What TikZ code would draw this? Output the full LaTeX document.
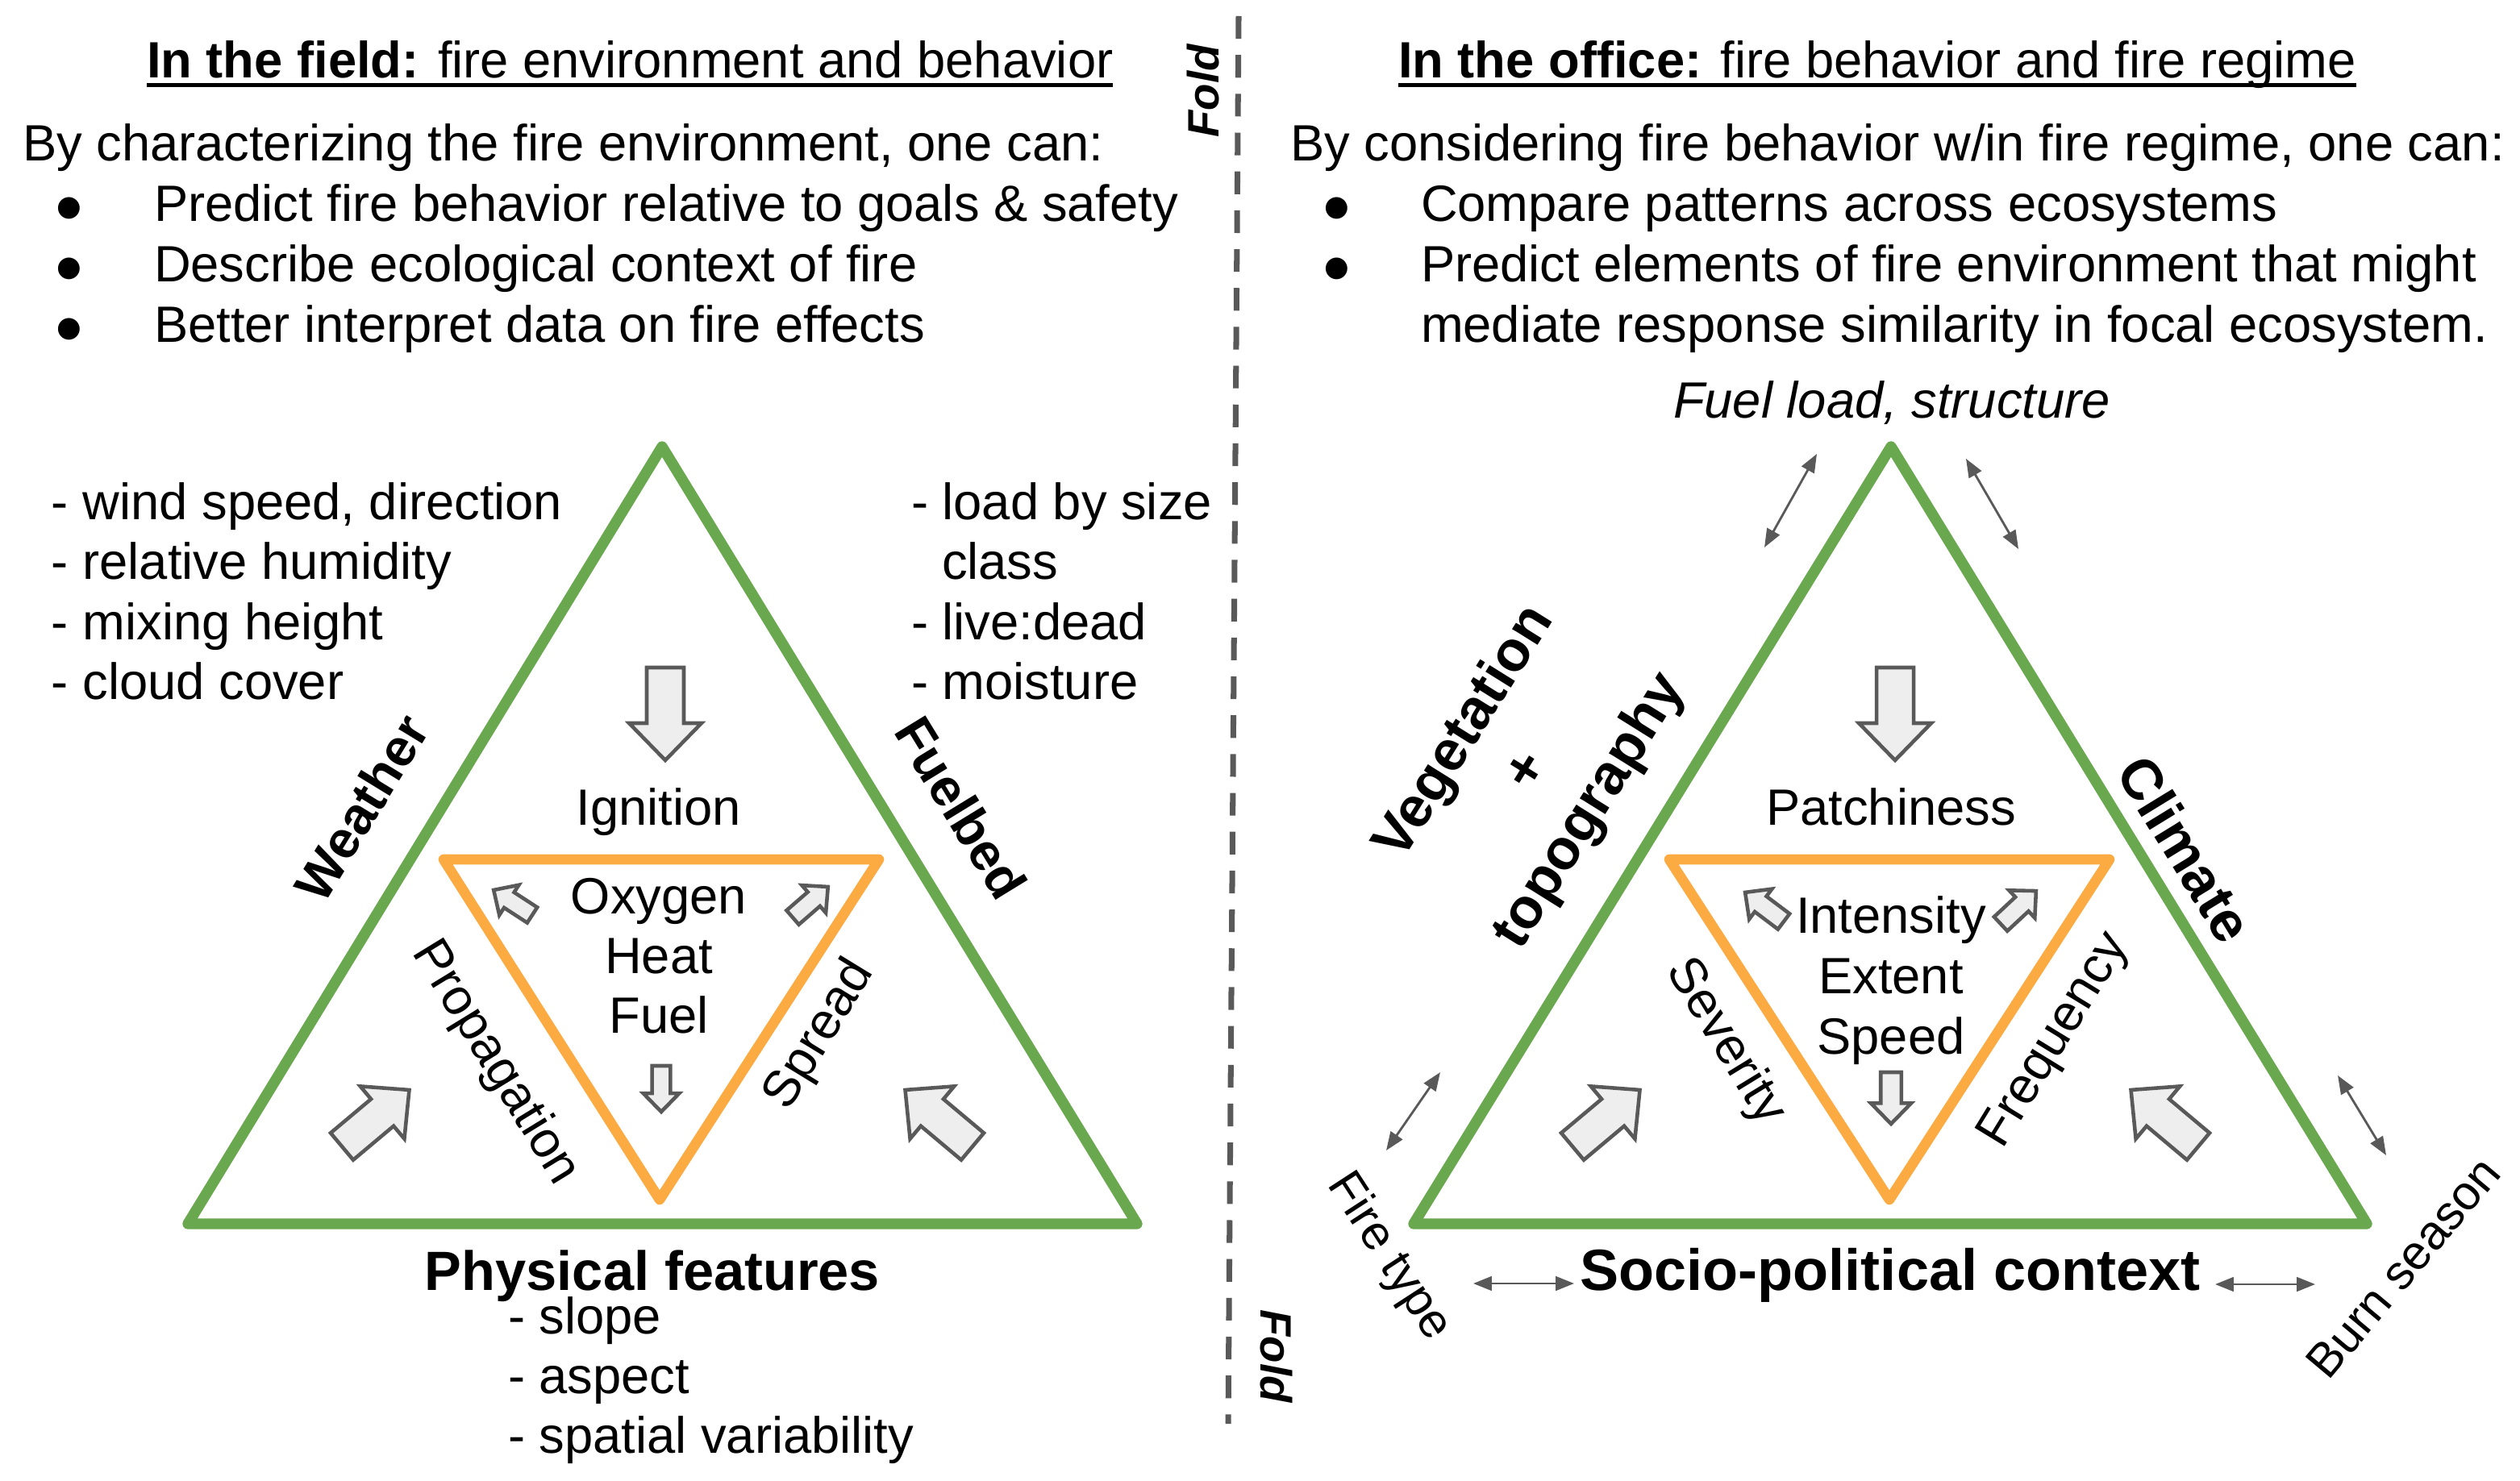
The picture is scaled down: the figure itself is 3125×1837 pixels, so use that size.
\documentclass[tikz,border=0pt]{standalone}
\usepackage{fontspec}
\setmainfont{Liberation Sans}
\newfontfamily\dejavu{DejaVu Sans}
\usetikzlibrary{arrows.meta}
\definecolor{tgreen}{RGB}{106,168,79}
\definecolor{torange}{RGB}{252,170,66}
\definecolor{agrey}{RGB}{89,89,89}
\definecolor{afill}{RGB}{238,238,238}
\newcommand\myul[1]{\setbox0=\hbox{#1}\leavevmode\rlap{\rule[-3pt]{\wd0}{1.4pt}}\box0}
\newcommand\barrow[4]{\draw[blockarr, shift={(#1,#2)}, rotate=#3] (0,{-0.2*#4}) -- ({0.6*#4},{-0.2*#4}) -- ({0.6*#4},{-0.39*#4}) -- (#4,0) -- ({0.6*#4},{0.39*#4}) -- ({0.6*#4},{0.2*#4}) -- (0,{0.2*#4}) -- cycle;}
\tikzset{
  txt/.style={font=\fontsize{18pt}{21pt}\selectfont, inner sep=0pt, outer sep=0pt},
  smalltxt/.style={font=\fontsize{17pt}{20pt}\selectfont, inner sep=0pt},
  boldtxt/.style={font=\fontsize{18.5pt}{21pt}\selectfont\bfseries, inner sep=0pt},
  bigbold/.style={font=\fontsize{20pt}{26pt}\selectfont\bfseries, inner sep=0pt},
  foldtxt/.style={font=\fontsize{15.5pt}{16pt}\selectfont\bfseries\itshape, inner sep=0pt},
  bul/.style={font=\dejavu\fontsize{10pt}{10pt}\selectfont, inner sep=0pt},
  greentri/.style={draw=tgreen, line width=3.8pt, line join=round},
  orangetri/.style={draw=torange, line width=3.6pt, line join=round},
  blockarr/.style={draw=agrey, fill=afill, line width=1.3pt, line join=miter},
  thinarr/.style={draw=agrey, line width=0.8pt, {Triangle[length=6.5pt,width=5pt]}-{Triangle[length=6.5pt,width=5pt]}},
  foldline/.style={draw=agrey, line width=2pt, dash pattern=on 8pt off 5.7pt}
}
\begin{document}
\begin{tikzpicture}[x=0.01cm, y=-0.01cm]
\useasboundingbox (0,0) rectangle (3125,1837);
\fill[white] (0,0) rectangle (3125,1837);

% fold line
\coordinate (f1) at (1536,20);
\coordinate (f2) at (1523,1766);
\draw[foldline] (f1) -- (f2);
\node[foldtxt, rotate=90] (fold1) at (1492,113) {Fold};
\node[foldtxt, rotate=-90] (fold2) at (1583,1682) {Fold};

% headers and bullets, left
\node[txt, anchor=base west] (hdrL) at (182,97) {\myul{\textbf{In the field:} fire environment and behavior}};
\node[txt, anchor=base west] (introL) at (28,200) {By characterizing the fire environment, one can:};
\node[bul] (bL1) at (86,258) {●};
\node[bul] (bL2) at (86,333) {●};
\node[bul] (bL3) at (86,408) {●};
\node[txt, anchor=base west] (iL1) at (191,275) {Predict fire behavior relative to goals \& safety};
\node[txt, anchor=base west] (iL2) at (191,350) {Describe ecological context of fire};
\node[txt, anchor=base west] (iL3) at (191,425) {Better interpret data on fire effects};

% headers and bullets, right
\node[txt, anchor=base west] (hdrR) at (1734,97) {\myul{\textbf{In the office:} fire behavior and fire regime}};
\node[txt, anchor=base west] (introR) at (1600,200) {By considering fire behavior w/in fire regime, one can:};
\node[bul] (bR1) at (1658,258) {●};
\node[bul] (bR2) at (1658,333) {●};
\node[txt, anchor=base west] (iR1) at (1762,275) {Compare patterns across ecosystems};
\node[txt, anchor=base west] (iR2) at (1762,350) {Predict elements of fire environment that might};
\node[txt, anchor=base west] (iR3) at (1762,425) {mediate response similarity in focal ecosystem.};

% ---------- left triangle ----------
\coordinate (LA) at (821,554);
\coordinate (LB) at (233,1518);
\coordinate (LC) at (1410,1518);
\draw[greentri] (LA) -- (LB) -- (LC) -- cycle;
\coordinate (LoA) at (550,1066);
\coordinate (LoB) at (1090,1066);
\coordinate (LoC) at (818,1488);
\draw[orangetri] (LoA) -- (LoB) -- (LoC) -- cycle;

\barrow{825}{828}{-90}{115}
\barrow{424}{1422}{40}{109}
\barrow{1206}{1422}{140}{109}
\barrow{660}{1135}{147}{57}
\barrow{983}{1138}{41}{58}
\barrow{820}{1322}{-90}{57}

\node[txt, anchor=base west] (wl1) at (64,644) {- wind speed, direction};
\node[txt, anchor=base west] (wl2) at (64,718) {- relative humidity};
\node[txt, anchor=base west] (wl3) at (64,793) {- mixing height};
\node[txt, anchor=base west] (wl4) at (64,867) {- cloud cover};
\node[txt, anchor=base west] (fl1) at (1130,644) {- load by size};
\node[txt, anchor=base west] (fl2) at (1168,718) {class};
\node[txt, anchor=base west] (fl3) at (1130,793) {- live:dead};
\node[txt, anchor=base west] (fl4) at (1130,867) {- moisture};
\node[txt, anchor=base west] (pl1) at (630,1654) {- slope};
\node[txt, anchor=base west] (pl2) at (630,1728) {- aspect};
\node[txt, anchor=base west] (pl3) at (630,1802) {- spatial variability};

\node[font=\fontsize{19.5pt}{22pt}\selectfont\bfseries, inner sep=0pt, anchor=base] (phys) at (809,1600) {Physical features};
\node[boldtxt, rotate=58.5] (weather) at (448,1002) {Weather};
\node[boldtxt, rotate=-58.5] (fuelbed) at (1192,1002) {Fuelbed};
\node[txt, anchor=base] (ign) at (817,1023) {Ignition};
\node[txt, anchor=base] (oxy) at (817,1133) {Oxygen};
\node[txt, anchor=base] (heat) at (817,1207) {Heat};
\node[txt, anchor=base] (fuel) at (817,1281) {Fuel};
\node[txt, rotate=-58.5] (prop) at (614,1318) {Propagation};
\node[txt, rotate=58.5] (spread) at (1017,1284) {Spread};

% ---------- right triangle ----------
\coordinate (RA) at (2345,554);
\coordinate (RB) at (1753,1518);
\coordinate (RC) at (2935,1518);
\draw[greentri] (RA) -- (RB) -- (RC) -- cycle;
\coordinate (RoA) at (2070,1066);
\coordinate (RoB) at (2616,1066);
\coordinate (RoC) at (2343,1488);
\draw[orangetri] (RoA) -- (RoB) -- (RoC) -- cycle;

\barrow{2350}{828}{-90}{115}
\barrow{1950}{1422}{40}{109}
\barrow{2726}{1422}{140}{109}
\barrow{2212}{1143}{143}{60}
\barrow{2481}{1146}{43}{60}
\barrow{2345}{1330}{-90}{64}

\node[txt, anchor=base, font=\fontsize{18pt}{21pt}\selectfont\itshape] (fload) at (2346,519) {Fuel load, structure};
\node[bigbold, rotate=58, align=center] (veg) at (1895,958) {Vegetation\\+\\topography};
\node[bigbold, rotate=-58.5] (climate) at (2710,1053) {Climate};
\node[txt, anchor=base] (patch) at (2345,1023) {Patchiness};
\node[txt, anchor=base] (inten) at (2345,1157) {Intensity};
\node[txt, anchor=base] (extent) at (2345,1232) {Extent};
\node[txt, anchor=base] (speed) at (2345,1307) {Speed};
\node[txt, rotate=-58.5] (sev) at (2139,1292) {Severity};
\node[txt, rotate=58.5] (freq) at (2549,1291) {Frequency};
\node[font=\fontsize{20.5pt}{24pt}\selectfont\bfseries, inner sep=0pt, anchor=base] (socio) at (2344,1600) {Socio-political context};
\node[smalltxt, rotate=-57] (ftype) at (1722,1559) {Fire type};
\node[smalltxt, rotate=50] (bseason) at (2980,1572) {Burn season};

% thin double arrows
\coordinate (a1s) at (2188,679); \coordinate (a1e) at (2253,563);
\coordinate (a2s) at (2438,569); \coordinate (a2e) at (2503,681);
\coordinate (a3s) at (1719,1427); \coordinate (a3e) at (1786,1330);
\coordinate (a4s) at (1827,1592); \coordinate (a4e) at (1952,1592);
\coordinate (a5s) at (2747,1593); \coordinate (a5e) at (2871,1593);
\coordinate (a6s) at (2899,1334); \coordinate (a6e) at (2959,1433);
\draw[thinarr] (a1s) -- (a1e);
\draw[thinarr] (a2s) -- (a2e);
\draw[thinarr] (a3s) -- (a3e);
\draw[thinarr] (a4s) -- (a4e);
\draw[thinarr] (a5s) -- (a5e);
\draw[thinarr] (a6s) -- (a6e);
\end{tikzpicture}
\end{document}
